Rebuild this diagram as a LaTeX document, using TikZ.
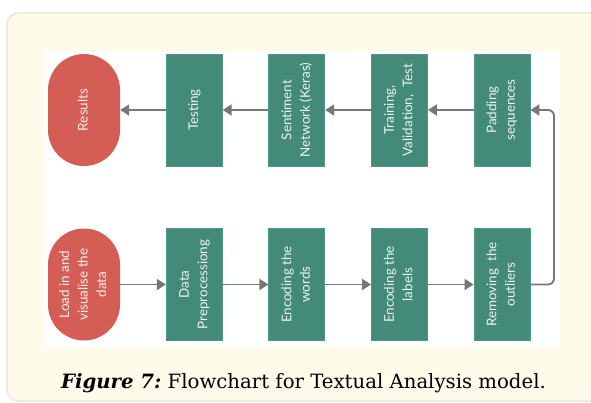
\documentclass[tikz,border=0pt]{standalone}
\usepackage{fontspec}
\setmainfont{DejaVu Serif}
\newfontfamily\latofont{Lato}
\usetikzlibrary{arrows.meta}
\definecolor{creambg}{HTML}{FEFBEA}
\definecolor{framecol}{HTML}{E9E7DD}
\definecolor{tealfill}{HTML}{438A78}
\definecolor{tealedge}{HTML}{4C9A86}
\definecolor{redfill}{HTML}{D45E55}
\definecolor{arrowgray}{HTML}{777777}
\newcommand{\vtext}[1]{\rotatebox{90}{\begin{tabular}{@{}c@{}}#1\end{tabular}}}
\begin{document}
\begin{tikzpicture}[x=1pt,y=-1pt,
  stepbox/.style={draw=tealedge, fill=tealfill, line width=0.8pt, minimum width=56pt, minimum height=112pt, inner sep=0pt,
    text=white, text opacity=0.9, font=\latofont\fontsize{13.4}{18.5}\selectfont},
  termbox/.style={fill=redfill, minimum width=72pt, minimum height=112pt, rounded corners=36pt, inner sep=0pt,
    text=white, text opacity=0.9, font=\latofont\fontsize{13.4}{18.5}\selectfont},
  flow/.style={draw=arrowgray, line width=1.9pt, -{Triangle[length=9pt,width=11pt]}}]
\useasboundingbox (0,0) rectangle (591,402);
\clip (0,0) rectangle (591,402);
\draw[draw=framecol, fill=creambg, line width=1.5pt, rounded corners=12pt] (7,13) rectangle (650,401);
\fill[white] (45,51) rectangle (560,347);
% top row
\node[termbox] (results) at (84,110) {\vtext{Results}};
\node[stepbox] (testing) at (194.3,110) {\vtext{Testing}};
\node[stepbox] (sentiment) at (296.8,110) {\vtext{Sentiment\\Network (Keras)}};
\node[stepbox] (training) at (399.5,110) {\vtext{Training,\\Validation,\ \ Test}};
\node[stepbox] (padding) at (502,110) {\vtext{Padding\\sequences}};
% bottom row
\node[termbox] (load) at (84,284.5) {\vtext{Load in and\\visualise the\\data}};
\node[stepbox] (prep) at (194.3,284.5) {\vtext{Data\\Preprocessiong}};
\node[stepbox] (words) at (296.8,284.5) {\vtext{Encoding the\\words}};
\node[stepbox] (labels) at (399.5,284.5) {\vtext{Encoding the\\labels}};
\node[stepbox] (outliers) at (502,284.5) {\vtext{Removing\ \ the\\outliers}};
\coordinate (turn) at (554,0);
% connectors
\draw[flow] (load.east) -- (prep.west);
\draw[flow] (prep.east) -- (words.west);
\draw[flow] (words.east) -- (labels.west);
\draw[flow] (labels.east) -- (outliers.west);
\draw[flow, rounded corners=6pt] (outliers.east) -- (outliers.east -| turn) -- (padding.east -| turn) -- (padding.east);
\draw[flow] (padding.west) -- (training.east);
\draw[flow] (training.west) -- (sentiment.east);
\draw[flow] (sentiment.west) -- (testing.east);
\draw[flow] (testing.west) -- (results.east);
% caption
\node[anchor=base, inner sep=0pt, font=\fontsize{19.7}{24}\selectfont] (caption) at (303.5,388)
  {\textbf{\textit{Figure 7:}}\ Flowchart for Textual Analysis model.};
\end{tikzpicture}
\end{document}
